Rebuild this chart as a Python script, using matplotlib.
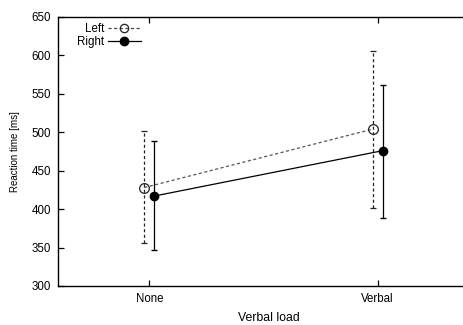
import matplotlib
matplotlib.use("Agg")
import matplotlib.pyplot as plt
from matplotlib.lines import Line2D
import numpy as np

plt.rcParams["font.family"] = ["Liberation Sans", "DejaVu Sans"]

# data
conditions = ["None", "Verbal"]
left_mean = [428, 504]
left_low = [356, 402]
left_high = [501, 606]
right_mean = [417, 476]
right_low = [347, 389]
right_high = [488, 562]

yticks = [300, 350, 400, 450, 500, 550, 600, 650]

x = np.arange(len(conditions))
off = 0.022

fig = plt.figure(figsize=(4.64, 3.25), dpi=100)
# right edge of the box runs off the picture, as in the reference
ax = fig.add_axes([0.125, 0.12, 0.91, 0.828])

lm = np.array(left_mean)
rm = np.array(right_mean)
left_err = [lm - np.array(left_low), np.array(left_high) - lm]
right_err = [rm - np.array(right_low), np.array(right_high) - rm]

dash = (0, (2.5, 2.0))
el = ax.errorbar(x - off, lm, yerr=left_err, color="#222222", lw=0.9,
                 ls=dash, marker="o", ms=7, mfc="none", mec="#222222",
                 mew=0.9, capsize=2.2, elinewidth=0.9)
el[2][0].set_linestyle(dash)
el[0].set_color("#555555")
el[0].set_markeredgecolor("#222222")

ax.errorbar(x + off, rm, yerr=right_err, color="black", lw=0.9,
            ls="-", marker="o", ms=6, mfc="black", mec="black",
            capsize=2.2, elinewidth=0.9)

ax.set_xlim(-0.4, 1.45)
ax.set_ylim(300, 650)
ax.set_xticks(x)
ax.set_xticklabels(conditions)
ax.set_yticks(yticks)

ax.tick_params(direction="in", length=4, width=0.9, labelsize=8.3, pad=5,
               top=True, right=False, colors="black")
for s in ax.spines.values():
    s.set_linewidth(1.0)
ax.spines["right"].set_visible(False)

ax.set_xlabel("Verbal load", fontsize=8.8, labelpad=5)
ax.set_ylabel("Reaction time [ms]", fontsize=7, labelpad=8)

handles = [
    Line2D([], [], color="#444444", lw=0.9, ls=dash, marker="o", ms=6,
           mfc="none", mec="#222222", mew=0.9),
    Line2D([], [], color="black", lw=0.9, ls="-", marker="o", ms=6,
           mfc="black", mec="black"),
]
ax.legend(handles, ["Left", "Right"], loc="upper left", frameon=False,
          markerfirst=False, fontsize=8.3, handlelength=2.9,
          handletextpad=0.3, labelspacing=0.1, borderaxespad=0.15,
          bbox_to_anchor=(0.03, 1.0))

fig.savefig("out.png", dpi=100)
